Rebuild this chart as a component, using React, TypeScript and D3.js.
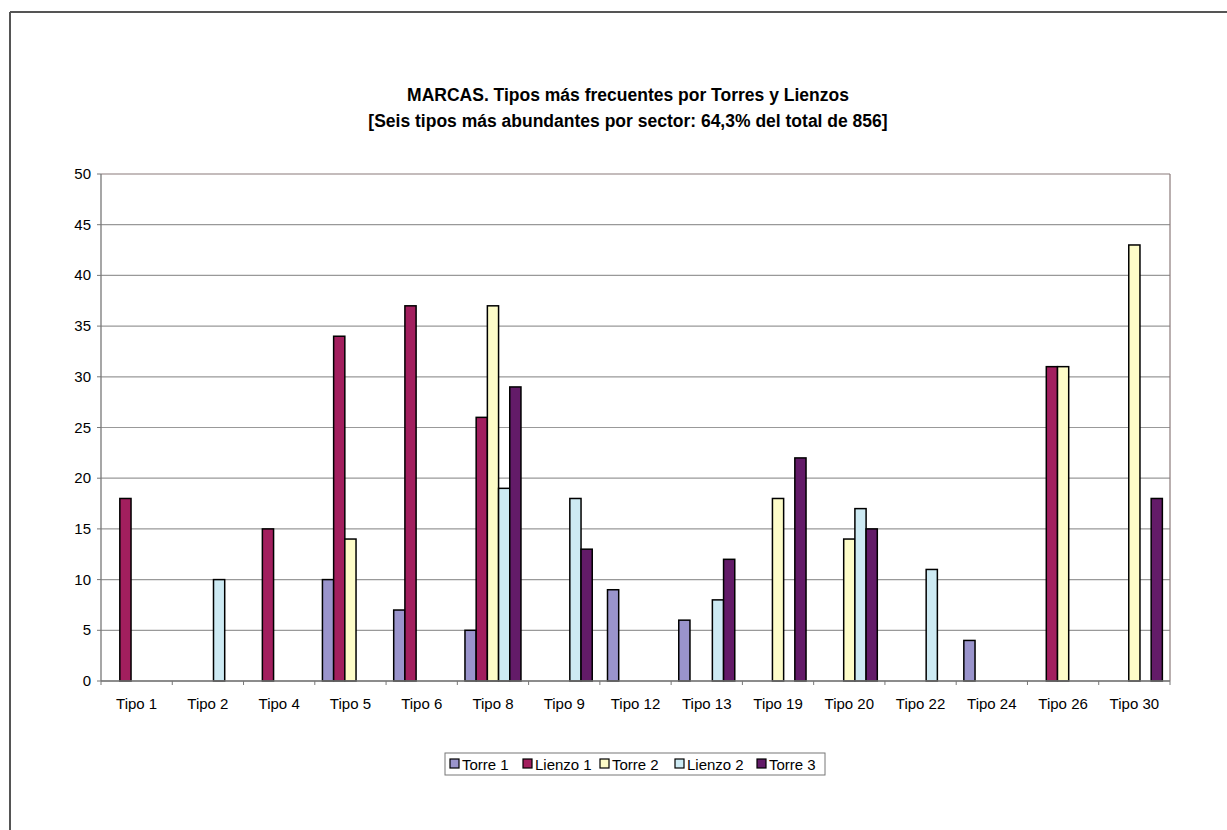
import React from "react";
import * as d3 from "d3";

const categories = ["Tipo 1","Tipo 2","Tipo 4","Tipo 5","Tipo 6","Tipo 8","Tipo 9","Tipo 12","Tipo 13","Tipo 19","Tipo 20","Tipo 22","Tipo 24","Tipo 26","Tipo 30"];
const seriesNames = ["Torre 1","Lienzo 1","Torre 2","Lienzo 2","Torre 3"];
const torre1 = [0,0,0,10,7,5,0,9,6,0,0,0,4,0,0];
const lienzo1 = [18,0,15,34,37,26,0,0,0,0,0,0,0,31,0];
const torre2 = [0,0,0,14,0,37,0,0,0,18,14,0,0,31,43];
const lienzo2 = [0,10,0,0,0,19,18,0,8,0,17,11,0,0,0];
const torre3 = [0,0,0,0,0,29,13,0,12,22,15,0,0,0,18];
const yTicks = [0,5,10,15,20,25,30,35,40,45,50];
const colors = ["#9a94cc","#a21f5e","#fdfcc8","#cdeaf3","#631b68"];

export default function App() {
  const W = 1227, H = 830;
  const left = 101, right = 1170, top = 174, bottom = 681;
  const seriesData = [torre1, lienzo1, torre2, lienzo2, torre3];
  const x = d3.scaleBand<string>().domain(categories).range([left, right]).paddingInner(0).paddingOuter(0);
  const y = d3.scaleLinear().domain([0, 50]).range([bottom, top]);
  const bw = 11.2;
  const groupW = bw * seriesNames.length;
  const font = "Arial, 'Liberation Sans', sans-serif";

  const legX = 445, legY = 753, legW = 380, legH = 22;
  const legendX = [450, 523, 600, 675, 757];

  return (
    <svg width={W} height={H} style={{ position: "absolute", left: 0, top: 0, background: "#fff" }}>
      <rect x={0} y={0} width={W} height={H} fill="#fff" />
      <line x1={10} y1={12} x2={W} y2={12} stroke="#555" strokeWidth={2} />
      <line x1={10} y1={12} x2={10} y2={H} stroke="#555" strokeWidth={2} />

      <text x={628} y={101} textAnchor="middle" fontFamily={font} fontWeight="bold" fontSize={17.5} fill="#000">
        MARCAS. Tipos más frecuentes por Torres y Lienzos
      </text>
      <text x={628} y={127} textAnchor="middle" fontFamily={font} fontWeight="bold" fontSize={17.5} fill="#000">
        [Seis tipos más abundantes por sector: 64,3% del total de 856]
      </text>

      {yTicks.map((t) => (
        <line key={"g" + t} x1={left} x2={right} y1={y(t)} y2={y(t)} stroke={t === 50 ? "#8a7a7a" : "#999"} strokeWidth={1.2} />
      ))}
      <line x1={right} x2={right} y1={top} y2={bottom} stroke="#8a7a7a" strokeWidth={1.2} />

      {categories.map((c, i) => {
        const cx = (x(c) as number) + x.bandwidth() / 2;
        const gx = cx - groupW / 2;
        return seriesData.map((s, k) => {
          const v = s[i];
          if (!v) return null;
          return (
            <rect key={c + k} x={gx + k * bw} y={y(v)} width={bw} height={y(0) - y(v)}
              fill={colors[k]} stroke="#000" strokeWidth={1.5} />
          );
        });
      })}

      <line x1={left} x2={right} y1={bottom} y2={bottom} stroke="#777" strokeWidth={1.3} />
      <line x1={left} x2={left} y1={top} y2={bottom} stroke="#777" strokeWidth={1.3} />
      {yTicks.map((t) => (
        <g key={"yt" + t}>
          <line x1={left - 4} x2={left} y1={y(t)} y2={y(t)} stroke="#777" />
          <text x={91} y={y(t) + 5} textAnchor="end" fontFamily={font} fontSize={15} fill="#000">{t}</text>
        </g>
      ))}
      {categories.map((c, i) => (
        <line key={"xt" + i} x1={x(c) as number} x2={x(c) as number} y1={bottom} y2={bottom + 4} stroke="#777" />
      ))}
      <line x1={right} x2={right} y1={bottom} y2={bottom + 4} stroke="#777" />
      {categories.map((c) => (
        <text key={"xl" + c} x={(x(c) as number) + x.bandwidth() / 2} y={709} textAnchor="middle" fontFamily={font} fontSize={15} fill="#000">{c}</text>
      ))}

      <rect x={legX} y={legY} width={legW} height={legH} fill="#fff" stroke="#777" strokeWidth={1} />
      {legendX.map((lx, k) => (
        <g key={"lg" + k}>
          <rect x={lx} y={legY + 6} width={9} height={9} fill={colors[k]} stroke="#000" strokeWidth={1.2} />
          <text x={lx + 12} y={legY + 16.5} fontFamily={font} fontSize={15} fill="#000">{seriesNames[k]}</text>
        </g>
      ))}
    </svg>
  );
}
